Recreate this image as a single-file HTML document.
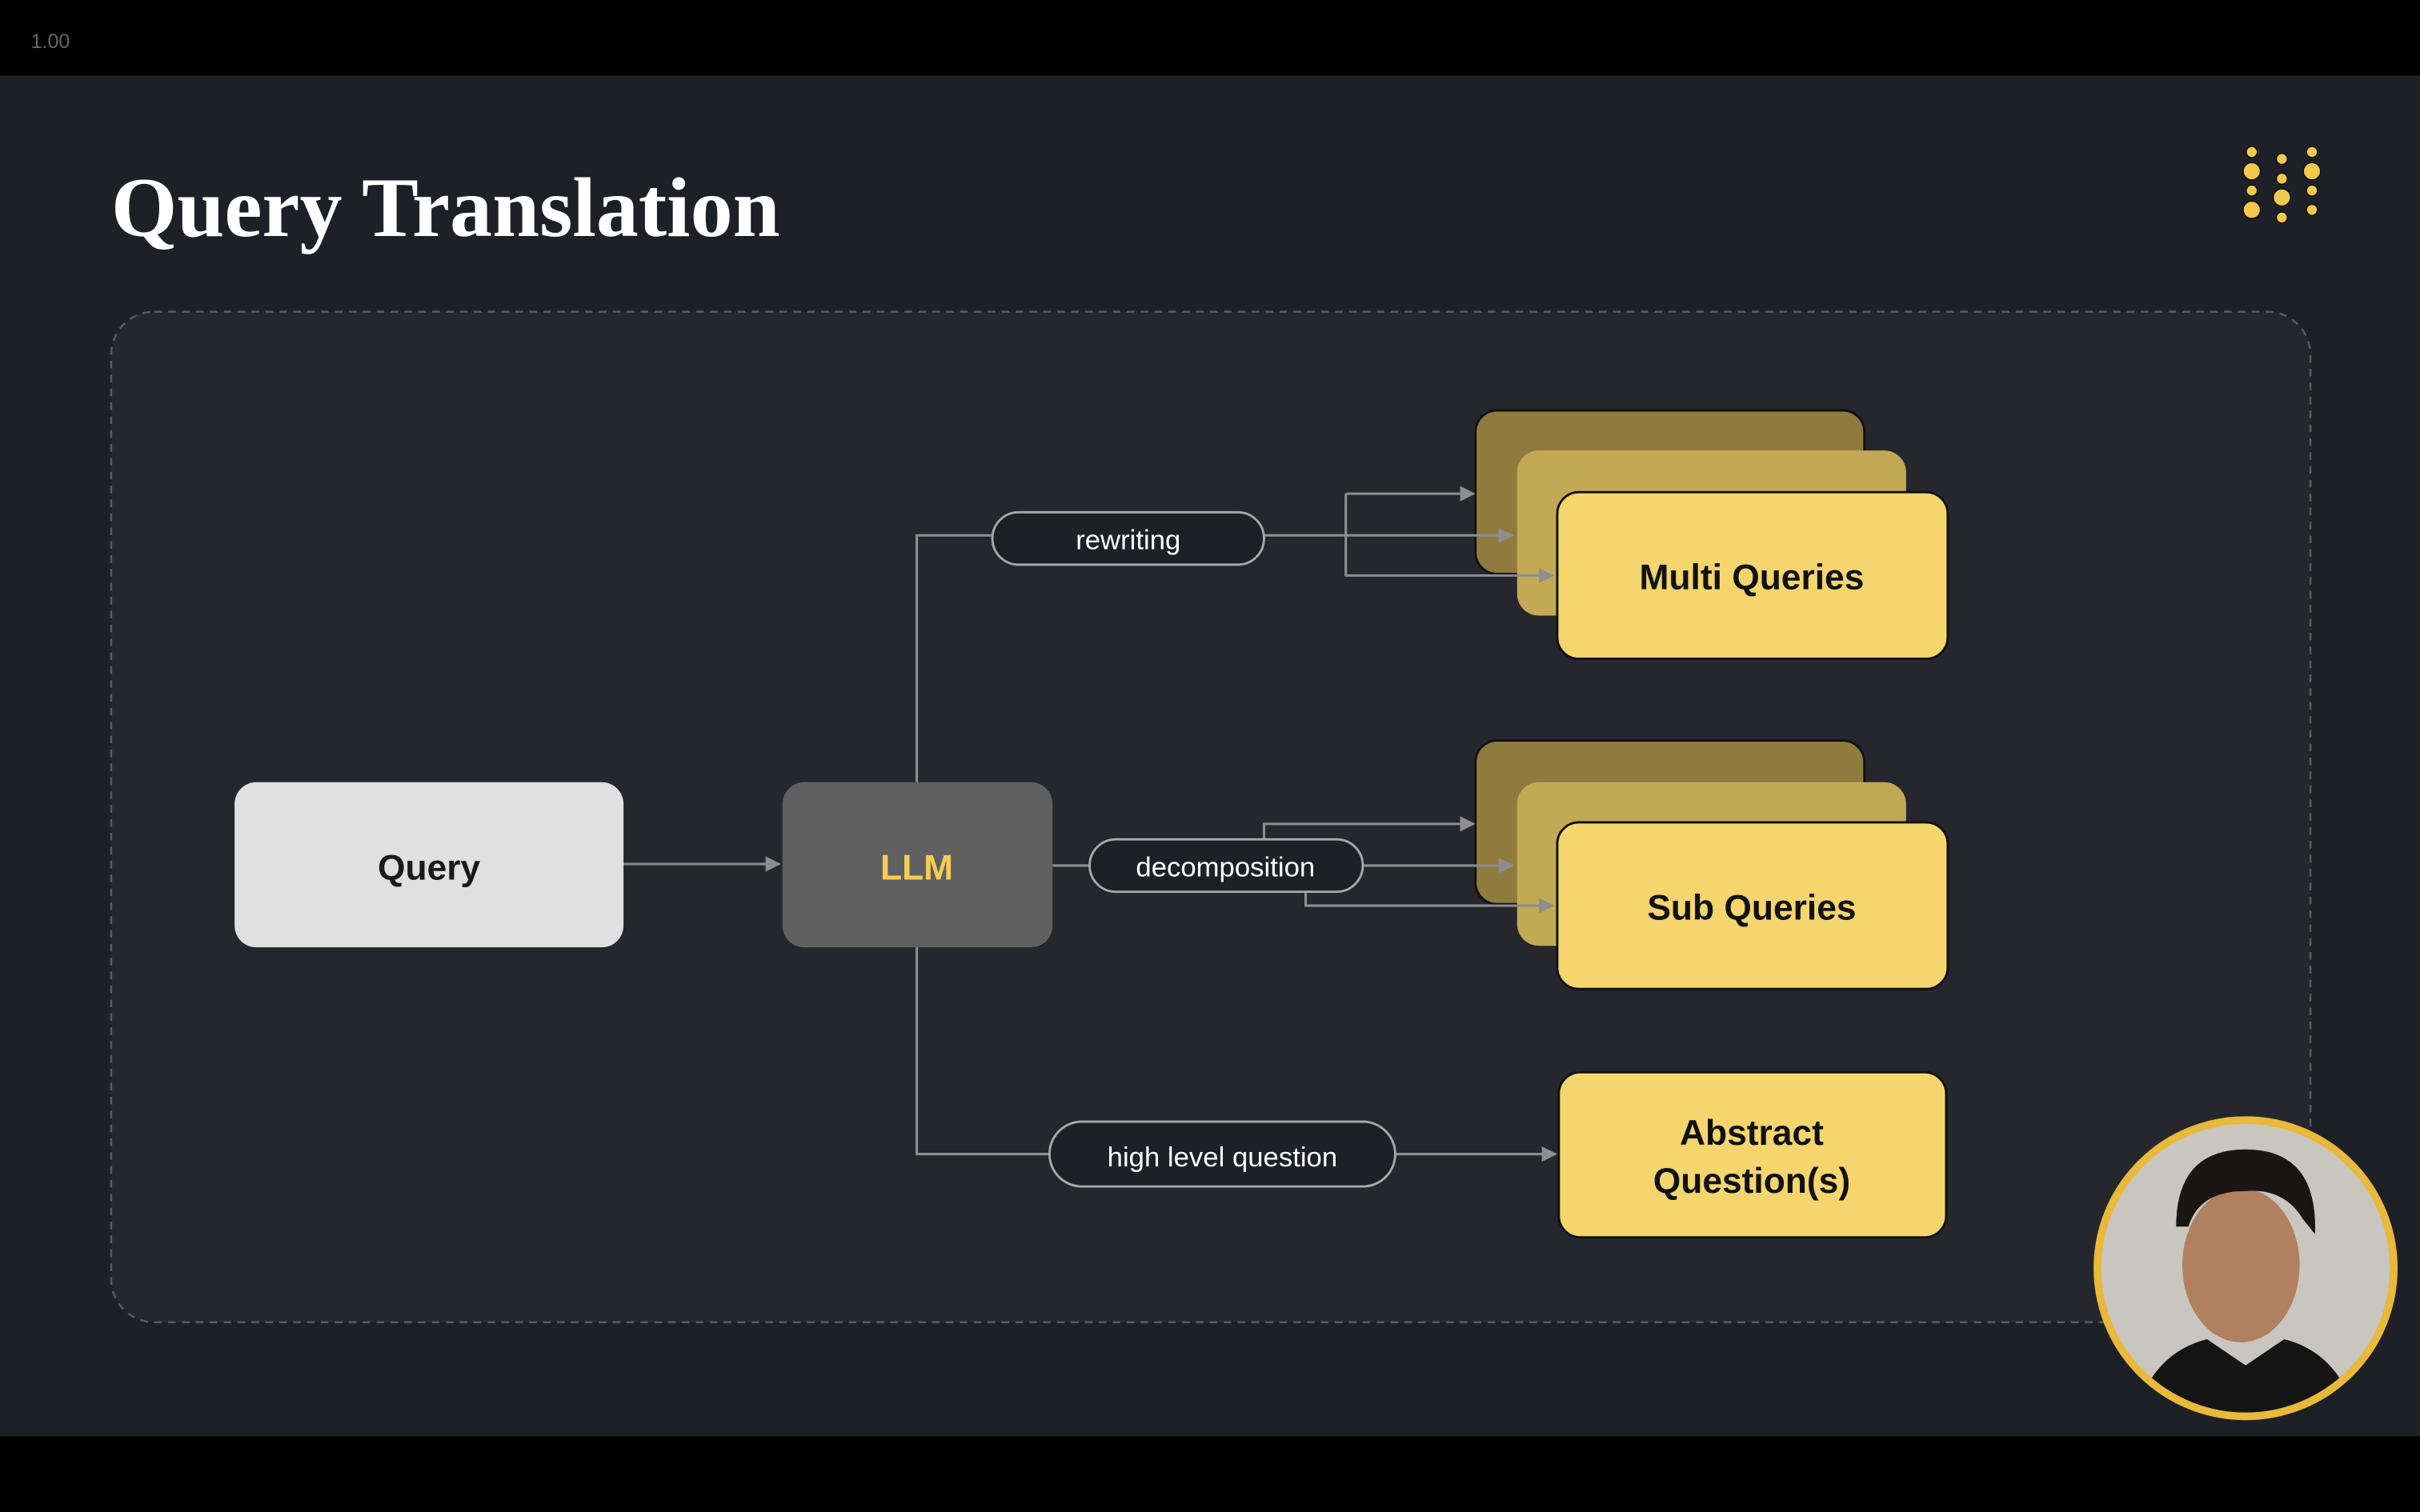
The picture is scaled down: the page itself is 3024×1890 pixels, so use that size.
<!DOCTYPE html>
<html><head><meta charset="utf-8"><style>
html,body{margin:0;padding:0;background:#000;}
svg{display:block;}
</style></head><body>
<svg width="3024" height="1890" viewBox="0 0 1568 980" xmlns="http://www.w3.org/2000/svg">
<defs>
<marker id="ar" markerWidth="10" markerHeight="10" refX="9" refY="5" orient="auto" markerUnits="userSpaceOnUse">
<path d="M0,0 L10,5 L0,10 z" fill="#8e8e8e"/></marker>
<clipPath id="cc"><circle cx="1455" cy="822" r="95"/></clipPath>
</defs>
<rect x="0" y="0" width="1568" height="980" fill="#000"/>
<rect x="0" y="49" width="1568" height="882" fill="#1e2027"/>
<text x="20" y="31" font-family="Liberation Sans, sans-serif" font-size="13" fill="#666">1.00</text>
<text x="72" y="153" font-family="Liberation Serif, serif" font-weight="bold" font-size="55" fill="#fff">Query Translation</text>
<g fill="#f2c94c" stroke="#111" stroke-width="0.8">
<circle cx="1459" cy="98.5" r="3.6"/><circle cx="1459" cy="111" r="5.6"/><circle cx="1459" cy="123.5" r="3.6"/><circle cx="1459" cy="136" r="5.6"/>
<circle cx="1478.5" cy="103" r="3.6"/><circle cx="1478.5" cy="115.8" r="3.6"/><circle cx="1478.5" cy="128" r="5.6"/><circle cx="1478.5" cy="141" r="3.6"/>
<circle cx="1498" cy="98.5" r="3.6"/><circle cx="1498" cy="111" r="5.6"/><circle cx="1498" cy="123.5" r="3.6"/><circle cx="1498" cy="136" r="3.6"/>
</g>
<rect x="72" y="202" width="1425" height="655" rx="28" fill="#26272c" stroke="#5a5a5e" stroke-width="1.3" stroke-dasharray="5,4"/>
<g font-family="Liberation Sans, sans-serif" text-anchor="middle">
<rect x="152" y="507" width="252" height="107" rx="14" fill="#e0e0e0"/>
<text x="278" y="570" font-size="23" font-weight="bold" fill="#1a1a1a">Query</text>
<rect x="507" y="507" width="175" height="107" rx="14" fill="#606060"/>
<text x="594" y="570" font-size="23" font-weight="bold" fill="#f5cc55">LLM</text>
<g stroke="#111" stroke-width="1.5">
<rect x="956" y="266" width="252" height="106" rx="14" fill="#8f7b3e"/>
<rect x="983" y="292" width="252" height="107" rx="14" fill="#c4a955" stroke="none"/>
<rect x="1009" y="319" width="253" height="108" rx="14" fill="#f5d56e"/>
<rect x="956" y="480" width="252" height="106" rx="14" fill="#8f7b3e"/>
<rect x="983" y="507" width="252" height="106" rx="14" fill="#c4a955" stroke="none"/>
<rect x="1009" y="533" width="253" height="108" rx="14" fill="#f5d56e"/>
<rect x="1010" y="695" width="251" height="107" rx="14" fill="#f5d56e"/>
</g>
<g stroke="#8e8e8e" stroke-width="1.6" fill="none">
<line x1="404" y1="560" x2="505" y2="560" marker-end="url(#ar)"/>
<polyline points="594,507 594,347 643,347"/>
<line x1="819" y1="347" x2="980" y2="347" marker-end="url(#ar)"/>
<polyline points="872,320 872,373 1006,373" marker-end="url(#ar)"/>
<line x1="872" y1="320" x2="955" y2="320" marker-end="url(#ar)"/>
<line x1="682" y1="561" x2="706" y2="561"/>
<line x1="883" y1="561" x2="980" y2="561" marker-end="url(#ar)"/>
<polyline points="819,544 819,534 955,534" marker-end="url(#ar)"/>
<polyline points="846,578 846,587 1006,587" marker-end="url(#ar)"/>
<polyline points="594,614 594,748 680,748"/>
<line x1="904" y1="748" x2="1008" y2="748" marker-end="url(#ar)"/>
</g>
<g fill="#1f2025" stroke="#a8a8a8" stroke-width="1.5">
<rect x="643" y="332" width="176" height="34" rx="17"/>
<rect x="706" y="544" width="177" height="34" rx="17"/>
<rect x="680" y="727" width="224" height="42" rx="21"/>
</g>
<g font-size="18" fill="#fff">
<text x="731" y="356">rewriting</text>
<text x="794" y="568">decomposition</text>
<text x="792" y="756">high level question</text>
</g>
<g font-size="23" font-weight="bold" fill="#111">
<text x="1135" y="382">Multi Queries</text>
<text x="1135" y="596">Sub Queries</text>
<text x="1135" y="742">Abstract</text>
<text x="1135" y="773">Question(s)</text>
</g>
</g>
<g clip-path="url(#cc)">
<rect x="1355" y="722" width="200" height="200" fill="#c9c6c0"/>
<ellipse cx="1452" cy="820" rx="38" ry="50" fill="#b08060"/>
<path d="M1410,795 Q1410,745 1455,745 Q1502,745 1500,800 L1492,790 Q1480,770 1455,772 Q1425,772 1418,795 z" fill="#1a1614"/>
<path d="M1380,930 Q1390,878 1430,868 L1455,885 L1480,868 Q1520,878 1530,930 z" fill="#151515"/>
</g>
<circle cx="1455" cy="822" r="96" fill="none" stroke="#e8b93a" stroke-width="5"/>
</svg>
</body></html>
